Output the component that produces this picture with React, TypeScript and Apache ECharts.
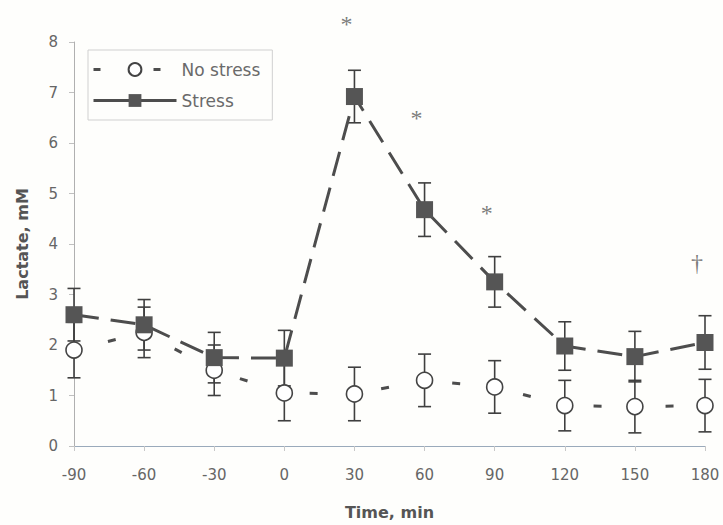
import React, { useEffect, useRef } from "react";
import * as echarts from "echarts";

// Sampling times (min) relative to stress onset
const times = [-90, -60, -30, 0, 30, 60, 90, 120, 150, 180];

// Plasma lactate (mM), mean and SEM
const noStressMean = [1.9, 2.25, 1.5, 1.05, 1.03, 1.3, 1.17, 0.8, 0.78, 0.8];
const noStressErr = [0.55, 0.5, 0.5, 0.55, 0.53, 0.52, 0.52, 0.5, 0.52, 0.52];
const stressMean = [2.6, 2.4, 1.75, 1.74, 6.92, 4.68, 3.25, 1.98, 1.77, 2.05];
const stressErr = [0.52, 0.5, 0.5, 0.55, 0.52, 0.53, 0.5, 0.48, 0.5, 0.53];

// Significance marks
const markTimes = [30, 60, 90, 180];
const markLevels = [8.35, 6.5, 4.62, 3.62];
const markSymbols = ["*", "*", "*", "\u2020"];

const yTicks = [0, 1, 2, 3, 4, 5, 6, 7, 8];

const INK = "#4d4d4d";
const FONT = "DejaVu Sans, Verdana, sans-serif";

function errorBarSeries(name: string, means: number[], errs: number[]) {
  return {
    name: name + " SEM",
    type: "custom",
    z: 2,
    silent: true,
    data: times.map((t, i) => [t, means[i] - errs[i], means[i] + errs[i]]),
    renderItem: (params: any, api: any) => {
      const x = api.value(0);
      const lo = api.coord([x, api.value(1)]);
      const hi = api.coord([x, api.value(2)]);
      const half = 6.5;
      const style = { stroke: "#3f3f3f", lineWidth: 1.6 };
      return {
        type: "group",
        children: [
          { type: "line", shape: { x1: lo[0], y1: lo[1], x2: hi[0], y2: hi[1] }, style },
          { type: "line", shape: { x1: lo[0] - half, y1: lo[1], x2: lo[0] + half, y2: lo[1] }, style },
          { type: "line", shape: { x1: hi[0] - half, y1: hi[1], x2: hi[0] + half, y2: hi[1] }, style },
        ],
      };
    },
  };
}

export default function App() {
  const ref = useRef<HTMLDivElement>(null);

  useEffect(() => {
    if (!ref.current) return;
    const chart = echarts.init(ref.current, undefined, { renderer: "svg" });
    chart.setOption({
      animation: false,
      backgroundColor: "#fefefc",
      grid: { left: 74, right: 18, top: 42, bottom: 79 },
      legend: {
        left: 88,
        top: 50,
        orient: "vertical",
        data: [
          { name: "No stress", lineStyle: { type: [7, 53], dashOffset: 0, width: 3 } },
          { name: "Stress", lineStyle: { type: "solid", width: 3 } },
        ],
        itemWidth: 83,
        itemHeight: 16,
        itemGap: 14,
        padding: [11, 12, 11, 4],
        borderColor: "#d0d0d0",
        borderWidth: 1,
        textStyle: { color: "#6a6a6a", fontSize: 17, fontFamily: FONT },
      },
      xAxis: {
        type: "value",
        min: -90,
        max: 180,
        interval: 30,
        axisLine: { onZero: false, lineStyle: { color: "#9aaabb", width: 1 } },
        axisTick: { show: true, length: 5, lineStyle: { color: "#c8c8c8" } },
        splitLine: { show: false },
        axisLabel: { color: "#666", fontSize: 15, fontFamily: FONT, margin: 21 },
        name: "Time, min",
        nameLocation: "middle",
        nameGap: 58,
        nameTextStyle: { color: "#555", fontSize: 16, fontWeight: "bold", fontFamily: FONT },
      },
      yAxis: {
        type: "value",
        min: yTicks[0],
        max: yTicks[yTicks.length - 1],
        interval: 1,
        axisLine: { show: true, onZero: false, lineStyle: { color: "#b0b0b0", width: 1 } },
        axisTick: { show: true, length: 5, lineStyle: { color: "#c0c0c0" } },
        splitLine: { show: false },
        axisLabel: { color: "#666", fontSize: 15, fontFamily: FONT, margin: 16 },
        name: "Lactate, mM",
        nameLocation: "middle",
        nameGap: 44,
        nameTextStyle: { color: "#555", fontSize: 16, fontWeight: "bold", fontFamily: FONT },
      },
      series: [
        errorBarSeries("No stress", noStressMean, noStressErr),
        errorBarSeries("Stress", stressMean, stressErr),
        {
          name: "No stress",
          type: "line",
          z: 3,
          data: times.map((t, i) => [t, noStressMean[i]]),
          symbol: "circle",
          symbolSize: 16,
          itemStyle: { color: "#ffffff", borderColor: "#444", borderWidth: 1.6 },
          lineStyle: { color: INK, width: 3, type: [8, 64], dashOffset: 37 },
        },
        {
          name: "Stress",
          type: "line",
          z: 4,
          data: times.map((t, i) => [t, stressMean[i]]),
          symbol: "rect",
          symbolSize: 17,
          itemStyle: { color: "#555555", borderColor: "#555555", borderWidth: 0 },
          lineStyle: { color: INK, width: 3, type: [25, 12] },
        },
        {
          name: "marks",
          type: "scatter",
          z: 5,
          clip: false,
          silent: true,
          symbolSize: 0,
          itemStyle: { color: "#5a5a5a" },
          data: markTimes.map((t, i) => ({ value: [t, markLevels[i]], mark: markSymbols[i] })),
          label: {
            show: true,
            position: "inside",
            offset: [-8, 0],
            formatter: (p: any) => p.data.mark,
            color: "#5a5a5a",
            textBorderWidth: 0,
            fontSize: 24,
            fontFamily: "Liberation Serif, Times New Roman, serif",
          },
        },
      ],
    });
    return () => chart.dispose();
  }, []);

  return (
    <div
      ref={ref}
      style={{ position: "absolute", left: 0, top: 0, width: 723, height: 525 }}
    />
  );
}
